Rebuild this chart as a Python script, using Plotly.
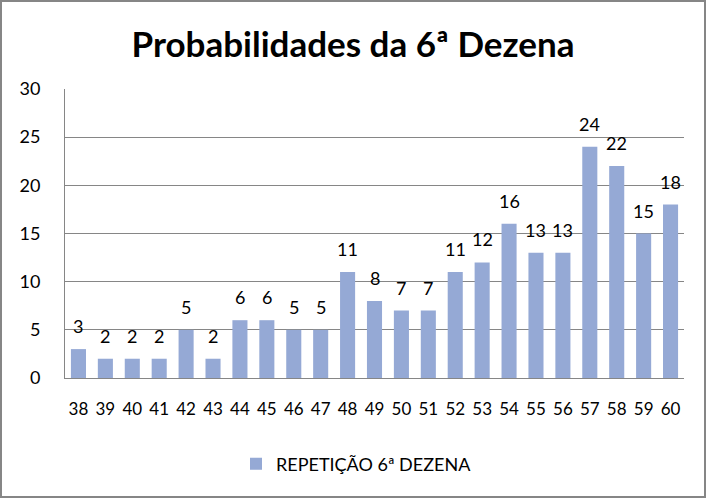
import plotly.graph_objects as go

categories = ["38","39","40","41","42","43","44","45","46","47","48","49","50","51","52","53","54","55","56","57","58","59","60"]
values = [3,2,2,2,5,2,6,6,5,5,11,8,7,7,11,12,16,13,13,24,22,15,18]
series_name = "REPETIÇÃO 6ª DEZENA"
title_text = "Probabilidades da 6ª Dezena"

W, H = 706, 498
L, R, T, B = 65, 22, 89, 120
pw, ph = W - L - R, H - T - B

FONT = "Lato, 'Open Sans', sans-serif"

fig = go.Figure()
fig.add_trace(go.Bar(
    x=categories, y=values, name=series_name,
    marker=dict(color="#95A9D5", line=dict(width=0)),
    showlegend=True,
))

# category axis: annotation x given as category index
annotations = [
    dict(x=i, y=v, xref="x", yref="y", text=str(v), showarrow=False,
         yanchor="bottom", yshift=10,
         font=dict(size=18, color="#000000", family=FONT))
    for i, v in enumerate(values)
]

fig.update_layout(
    width=W, height=H,
    margin=dict(l=L, r=R, t=T, b=B),
    paper_bgcolor="white", plot_bgcolor="white",
    bargap=0.44,
    title=dict(text="<b>" + title_text + "</b>", x=0.5, xanchor="center",
               y=1 - 45 / H, yanchor="middle",
               font=dict(size=35, color="#000000", family=FONT)),
    font=dict(family=FONT, size=18, color="#000000"),
    xaxis=dict(type="category", categoryorder="array", categoryarray=categories,
               tickmode="array", tickvals=categories, ticktext=categories,
               showgrid=False, showline=True, linecolor="#868686",
               linewidth=1, ticks="", tickfont=dict(size=17, color="#000000"),
               ticklabelstandoff=16, tickangle=0),
    yaxis=dict(range=[0, 30], dtick=5, showgrid=True, gridcolor="#868686", gridwidth=1,
               showline=True, linecolor="#868686", linewidth=1, ticks="",
               zeroline=False, tickfont=dict(size=18, color="#000000"),
               ticklabelstandoff=20),
    legend=dict(orientation="h", x=0.5 - 18 / pw, xanchor="center", y=(378 - 464) / ph,
                yanchor="middle", itemwidth=30,
                font=dict(size=18, color="#000000", family=FONT),
                bgcolor="rgba(0,0,0,0)"),
    annotations=annotations,
    shapes=[dict(type="rect", xref="paper", yref="paper",
                 x0=(1 - L) / pw, x1=(705 - L) / pw,
                 y0=(T + ph - 497) / ph, y1=(T + ph - 1) / ph,
                 line=dict(color="#868686", width=2), layer="below")],
)

fig.write_html("out.html")
